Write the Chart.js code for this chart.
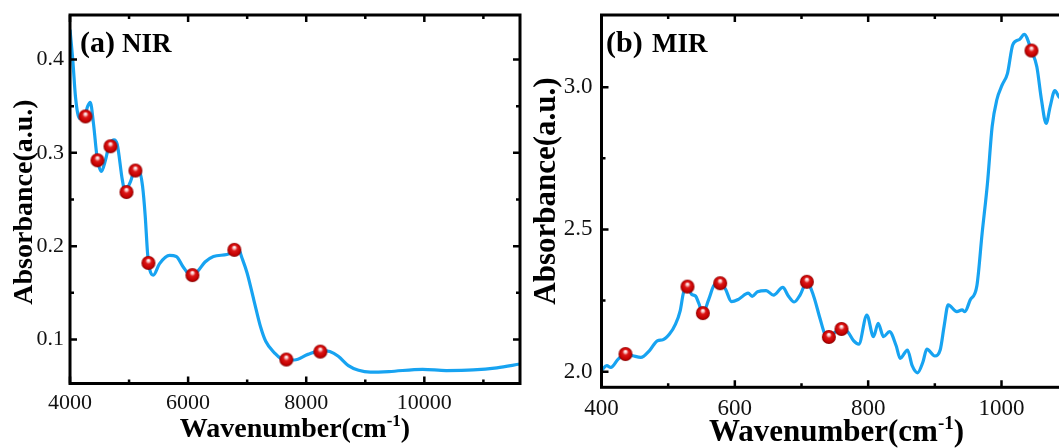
<!DOCTYPE html>
<html>
<head>
<meta charset="utf-8">
<script src="https://cdn.jsdelivr.net/npm/chart.js@4.4.1/dist/chart.umd.min.js"></script>
<style>
  html, body { margin: 0; padding: 0; background: #fff; overflow: hidden; width: 1059px; height: 448px; }
  .panel { position: absolute; top: 0; }
  #nir-box { left: 0; width: 530px; height: 448px; }
  #mir-box { left: 530px; width: 620px; height: 448px; }
</style>
</head>
<body>
<div class="panel" id="nir-box"><canvas id="nir" width="530" height="448"></canvas></div>
<div class="panel" id="mir-box"><canvas id="mir" width="620" height="448"></canvas></div>
<script>
// NIR spectrum (wavenumber in cm-1, absorbance)
const nirWave = [4000, 4050, 4093, 4160, 4250, 4300, 4343, 4400, 4457, 4531, 4600, 4657, 4743, 4800, 4886, 4931,
  5029, 5086, 5171, 5229, 5274, 5314, 5354, 5411, 5514, 5686, 5800, 5914, 6029, 6143, 6286, 6429, 6657, 6857,
  6914, 7000, 7114, 7229, 7314, 7457, 7629, 7800, 8029, 8257, 8400, 8543, 8714, 8886, 9086, 9400, 9971, 10371,
  10829, 11229, 11620];
const nirAbs = [0.432, 0.397, 0.360, 0.337, 0.340, 0.350, 0.354, 0.330, 0.296, 0.280, 0.292, 0.307, 0.314, 0.309,
  0.271, 0.259, 0.270, 0.280, 0.281, 0.264, 0.232, 0.192, 0.174, 0.169, 0.181, 0.190, 0.189, 0.178, 0.170, 0.172,
  0.183, 0.189, 0.191, 0.196, 0.187, 0.171, 0.142, 0.113, 0.098, 0.086, 0.078, 0.078, 0.084, 0.088, 0.087, 0.082,
  0.072, 0.067, 0.065, 0.0656, 0.068, 0.0667, 0.0673, 0.0696, 0.0737];
// marked bands in the NIR region
const nirPeakWave = [4262, 4465, 4685, 4956, 5108, 5328, 6073, 6783, 7663, 8239];
const nirPeakAbs = [0.339, 0.292, 0.307, 0.258, 0.281, 0.182, 0.169, 0.196, 0.0785, 0.087];

// MIR spectrum
const mirWave = [400, 408, 414, 425, 436, 447, 459, 472, 484, 492, 502, 511, 518, 523, 529, 535, 541, 546, 552,
  561, 569, 578, 586, 595, 606, 620, 626, 634, 647, 658, 672, 680, 689, 698, 708, 718, 728, 735, 740, 750, 760,
  770, 778, 786, 798, 808, 815, 823, 832, 842, 848, 859, 866, 874, 882, 888, 900, 908, 914, 920, 933, 941, 945,
  953, 963, 971, 979, 986, 993, 1001, 1009, 1017, 1027, 1034, 1045, 1053, 1060, 1067, 1073, 1080, 1086, 1095];
const mirAbs = [2.005, 2.021, 2.015, 2.044, 2.062, 2.056, 2.050, 2.074, 2.109, 2.112, 2.132, 2.167, 2.214, 2.278,
  2.299, 2.272, 2.266, 2.240, 2.206, 2.255, 2.304, 2.311, 2.290, 2.246, 2.255, 2.276, 2.265, 2.281, 2.285, 2.269,
  2.296, 2.267, 2.245, 2.270, 2.316, 2.267, 2.185, 2.132, 2.124, 2.138, 2.152, 2.138, 2.109, 2.097, 2.199, 2.123,
  2.170, 2.123, 2.141, 2.091, 2.047, 2.076, 2.021, 1.996, 2.033, 2.079, 2.055, 2.076, 2.161, 2.235, 2.211, 2.217,
  2.211, 2.252, 2.301, 2.488, 2.664, 2.862, 2.956, 3.008, 3.049, 3.150, 3.168, 3.186, 3.129, 3.072, 2.955, 2.873,
  2.932, 2.988, 2.967, 2.950];
const mirPeakWave = [436, 529, 552, 578, 708, 741, 760, 1045];
const mirPeakAbs = [2.062, 2.299, 2.206, 2.311, 2.316, 2.122, 2.150, 3.129];

// axis ticks
const nirXTicks = [4000, 6000, 8000, 10000];
const nirXMinor = [5000, 7000, 9000, 11000];
const nirYTicks = [0.1, 0.2, 0.3, 0.4];
const nirYMinor = [0.15, 0.25, 0.35];
const mirXTicks = [400, 600, 800, 1000];
const mirXMinor = [500, 700, 900, 1100];
const mirYTicks = [2.0, 2.5, 3.0];
const mirYMinor = [2.25, 2.75];

const SERIF = '"Liberation Serif", "Times New Roman", serif';
const LINE_BLUE = '#17a3f1';

// shaded red ball used as the marker
function sphere(r) {
  const c = document.createElement('canvas');
  c.width = c.height = r * 2 + 2;
  const g = c.getContext('2d');
  const cx = r + 1, cy = r + 1;
  const grad = g.createRadialGradient(cx, cy - r * 0.4, r * 0.05, cx, cy, r);
  grad.addColorStop(0, '#ffffff');
  grad.addColorStop(0.18, '#f6b3b3');
  grad.addColorStop(0.38, '#dc1818');
  grad.addColorStop(0.8, '#c40000');
  grad.addColorStop(1, '#820000');
  g.fillStyle = grad;
  g.beginPath();
  g.arc(cx, cy, r, 0, Math.PI * 2);
  g.fill();
  return c;
}
const ball = sphere(7);

const zip = (xs, ys) => xs.map((x, i) => ({ x, y: ys[i] }));

// frame, inward ticks, axis titles and panel tag
const framePlugin = {
  id: 'frame',
  afterDraw(chart, args, o) {
    const { ctx, chartArea: a, scales: { x, y } } = chart;
    ctx.save();
    ctx.strokeStyle = '#000';
    ctx.lineWidth = 3;
    ctx.lineCap = 'butt';
    ctx.strokeRect(a.left, a.top, a.right - a.left, a.bottom - a.top);

    const tick = (vals, len, horiz) => {
      vals.forEach(v => {
        ctx.beginPath();
        if (horiz) {
          const px = x.getPixelForValue(v);
          ctx.moveTo(px, a.bottom); ctx.lineTo(px, a.bottom - len);
          ctx.moveTo(px, a.top); ctx.lineTo(px, a.top + len);
        } else {
          const py = y.getPixelForValue(v);
          ctx.moveTo(a.left, py); ctx.lineTo(a.left + len, py);
          ctx.moveTo(a.right, py); ctx.lineTo(a.right - len, py);
        }
        ctx.stroke();
      });
    };
    ctx.lineWidth = 2.5;
    tick(o.xMajor, 7, true);
    tick(o.xMinor, 4, true);
    tick(o.yMajor, 7, false);
    tick(o.yMinor, 4, false);

    ctx.fillStyle = '#000';
    // x title with superscript
    const s = o.titleSize;
    const big = `bold ${s}px ${SERIF}`, small = `bold ${Math.round(s * 0.62)}px ${SERIF}`;
    ctx.font = big;
    const w1 = ctx.measureText('Wavenumber(cm').width, w3 = ctx.measureText(')').width;
    ctx.font = small;
    const w2 = ctx.measureText('-1').width;
    let tx = (a.left + a.right) / 2 + o.xTitleShift - (w1 + w2 + w3) / 2;
    const by = o.xTitleY;
    ctx.textAlign = 'left';
    ctx.textBaseline = 'alphabetic';
    ctx.font = big; ctx.fillText('Wavenumber(cm', tx, by); tx += w1;
    ctx.font = small; ctx.fillText('-1', tx, by - s * 0.4); tx += w2;
    ctx.font = big; ctx.fillText(')', tx, by);

    // y title
    ctx.save();
    ctx.translate(o.yTitleX, o.yTitleY);
    ctx.rotate(-Math.PI / 2);
    ctx.textAlign = 'center';
    ctx.font = big;
    ctx.fillText('Absorbance(a.u.)', 0, 0);
    ctx.restore();

    // panel tag
    ctx.textAlign = 'left';
    ctx.font = `bold ${o.tagSize}px ${SERIF}`;
    ctx.fillText(o.tag[0], o.tagX, o.tagY);
    ctx.font = `bold ${o.tagSize - 3}px ${SERIF}`;
    ctx.fillText(o.tag[1], o.tagX2, o.tagY);
    ctx.restore();
  }
};

function makeChart(id, cfg) {
  return new Chart(document.getElementById(id), {
    type: 'line',
    data: {
      datasets: [{
        data: zip(cfg.wave, cfg.abs),
        borderColor: LINE_BLUE,
        borderWidth: 3.2,
        pointRadius: 0,
        cubicInterpolationMode: 'monotone',
        fill: false,
        order: 2
      }, {
        data: zip(cfg.peakWave, cfg.peakAbs),
        showLine: false,
        pointStyle: ball,
        pointRadius: 7,
        order: 1
      }]
    },
    options: {
      responsive: false,
      animation: false,
      events: [],
      layout: { padding: cfg.padding },
      plugins: {
        legend: { display: false },
        tooltip: { enabled: false },
        frame: cfg.frame
      },
      scales: {
        x: {
          type: 'linear',
          min: cfg.xMin, max: cfg.xMax,
          grid: { display: false, drawTicks: false },
          border: { display: false },
          afterBuildTicks: s => { s.ticks = cfg.xTicks.map(v => ({ value: v })); },
          afterFit: s => { s.height = cfg.xHeight; s.paddingLeft = 0; s.paddingRight = 0; },
          ticks: {
            padding: cfg.xPad,
            color: '#111',
            maxRotation: 0,
            font: { family: SERIF, size: cfg.tickSize },
            callback: v => String(v)
          }
        },
        y: {
          type: 'linear',
          min: cfg.yMin, max: cfg.yMax,
          grid: { display: false, drawTicks: false },
          border: { display: false },
          afterBuildTicks: s => { s.ticks = cfg.yTicks.map(v => ({ value: v })); },
          afterFit: s => { s.width = cfg.yWidth; s.paddingTop = 0; s.paddingBottom = 0; },
          ticks: {
            padding: cfg.yPad,
            color: '#111',
            font: { family: SERIF, size: cfg.tickSize },
            callback: v => v.toFixed(1)
          }
        }
      }
    },
    plugins: [framePlugin]
  });
}

makeChart('nir', {
  wave: nirWave, abs: nirAbs, peakWave: nirPeakWave, peakAbs: nirPeakAbs,
  xMin: 4000, xMax: 11620, yMin: 0.0528, yMax: 0.4477,
  xTicks: nirXTicks, yTicks: nirYTicks,
  padding: { left: 0, top: 15, right: 10, bottom: 0 },
  xHeight: 64.5, yWidth: 70, xPad: 7, yPad: 6, tickSize: 22,
  frame: {
    xMajor: nirXTicks, xMinor: nirXMinor, yMajor: nirYTicks, yMinor: nirYMinor,
    titleSize: 28, xTitleShift: 0, xTitleY: 437, yTitleX: 32, yTitleY: 202,
    tag: ['(a)', 'NIR'], tagSize: 30, tagX: 80, tagX2: 122, tagY: 52
  }
});

makeChart('mir', {
  wave: mirWave, abs: mirAbs, peakWave: mirPeakWave, peakAbs: mirPeakAbs,
  xMin: 400, xMax: 1150, yMin: 1.945, yMax: 3.254,
  xTicks: mirXTicks, yTicks: mirYTicks,
  padding: { left: 0, top: 15, right: 48.5, bottom: 0 },
  xHeight: 60.7, yWidth: 71.5, xPad: 8, yPad: 9, tickSize: 23,
  frame: {
    xMajor: mirXTicks, xMinor: mirXMinor, yMajor: mirYTicks, yMinor: mirYMinor,
    titleSize: 31, xTitleShift: -15, xTitleY: 441, yTitleX: 25, yTitleY: 191,
    tag: ['(b)', 'MIR'], tagSize: 30, tagX: 76, tagX2: 122, tagY: 52
  }
});
</script>
</body>
</html>
